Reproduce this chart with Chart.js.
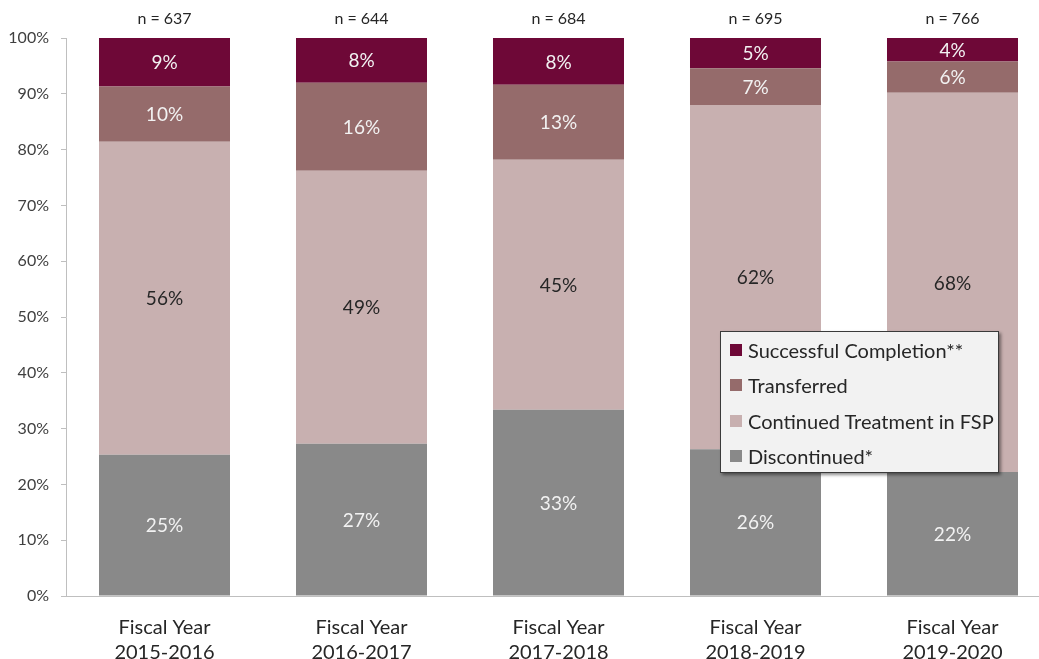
<!DOCTYPE html>
<html>
<head>
<meta charset="utf-8">
<script src="https://cdn.jsdelivr.net/npm/chart.js@4.4.1/dist/chart.umd.min.js"></script>
<style>
  html, body { margin:0; padding:0; background:#fff; overflow:hidden; }
  #wrap { position:relative; width:1051px; height:659px; }
  #legend {
    position:absolute; left:720px; top:331px; width:279px; height:142px; box-sizing:border-box;
    background:#f2f2f2; border:1px solid #3a3a3a; box-shadow:2px 2px 3px rgba(0,0,0,0.45);
    font-family:Lato, sans-serif; font-size:20px; color:#262626; padding-top:0;
  }
  .lg-item { display:flex; align-items:center; height:35.5px; padding-left:9px; }
  .lg-box { width:12px; height:12px; margin-right:6px; flex-shrink:0; }
</style>
</head>
<body>
<div id="wrap">
  <canvas id="chart" width="1051" height="659"></canvas>
  <div id="legend"></div>
</div>
<script>
/* FSP outcomes by fiscal year — 100% stacked bars */

const YEARS = [
  ['Fiscal Year', '2015-2016'],
  ['Fiscal Year', '2016-2017'],
  ['Fiscal Year', '2017-2018'],
  ['Fiscal Year', '2018-2019'],
  ['Fiscal Year', '2019-2020'],
];
const SAMPLE_SIZES = ['n = 637', 'n = 644', 'n = 684', 'n = 695', 'n = 766'];
const Y_TICKS = [0, 10, 20, 30, 40, 50, 60, 70, 80, 90, 100];

const discontinued = [25.3, 27.3, 33.4, 26.3, 22.2];
const continued    = [56.1, 48.9, 44.8, 61.7, 68.0];
const transferred  = [9.9, 15.8, 13.4, 6.6, 5.6];
const successful   = [8.7, 8.0, 8.4, 5.4, 4.2];

const SERIES = [
  ['Discontinued*',              discontinued, '#898989', '#f2f2f2'],
  ['Continued Treatment in FSP', continued,    '#c8b0b0', '#262626'],
  ['Transferred',                transferred,  '#956b6b', '#f2f2f2'],
  ['Successful Completion**',    successful,   '#6e0837', '#f2f2f2'],
];

const FONT = 'Lato, sans-serif';
const AXIS = '#bfbfbf';

const segmentLabels = {
  id: 'segmentLabels',
  afterDatasetsDraw(chart) {
    const ctx = chart.ctx;
    ctx.save();
    ctx.font = `19px ${FONT}`;
    ctx.textAlign = 'center';
    ctx.textBaseline = 'middle';
    chart.data.datasets.forEach((ds, i) => {
      const meta = chart.getDatasetMeta(i);
      ctx.fillStyle = SERIES[i][3];
      meta.data.forEach((bar, j) => {
        const p = bar.getCenterPoint();
        ctx.fillText(Math.round(ds.data[j]) + '%', p.x, p.y + 1);
      });
    });
    ctx.restore();
  }
};

new Chart(document.getElementById('chart'), {
  type: 'bar',
  data: {
    labels: YEARS,
    datasets: SERIES.map(([label, data, color]) => ({
      label, data, backgroundColor: color, borderWidth: 0,
      categoryPercentage: 1, barPercentage: 0.665,
    })),
  },
  options: {
    responsive: false, animation: false, devicePixelRatio: 1,
    layout: { padding: 0 },
    plugins: { legend: { display: false }, tooltip: { enabled: false } },
    scales: {
      x: {
        stacked: true, offset: true,
        grid: { display: false },
        border: { display: true, color: AXIS, width: 1 },
        ticks: { color: '#262626', font: { family: FONT, size: 20, lineHeight: '25px' }, padding: 11, maxRotation: 0 },
        afterFit: s => { s.height = 63; },
      },
      x2: {
        type: 'category', position: 'top', labels: SAMPLE_SIZES, offset: true,
        grid: { display: false }, border: { display: false },
        ticks: { color: '#262626', font: { family: FONT, size: 16 }, padding: 2, maxRotation: 0 },
        afterFit: s => { s.height = 38; },
      },
      y: {
        stacked: true, min: 0, max: 100,
        afterBuildTicks: s => { s.ticks = Y_TICKS.map(v => ({ value: v })); },
        grid: { drawOnChartArea: false, drawTicks: true, tickLength: 5, color: AXIS },
        border: { display: true, color: AXIS, width: 1 },
        ticks: { color: '#404040', font: { family: FONT, size: 16 }, padding: 12, callback: v => v + '%' },
        afterFit: s => { s.width = 66; },
      },
    },
  },
  plugins: [segmentLabels],
});

const lg = document.getElementById('legend');
SERIES.slice().reverse().forEach(([label, , color]) => {
  const item = document.createElement('div');
  item.className = 'lg-item';
  item.innerHTML = `<span class="lg-box" style="background:${color}"></span><span>${label}</span>`;
  lg.appendChild(item);
});
</script>
</body>
</html>
